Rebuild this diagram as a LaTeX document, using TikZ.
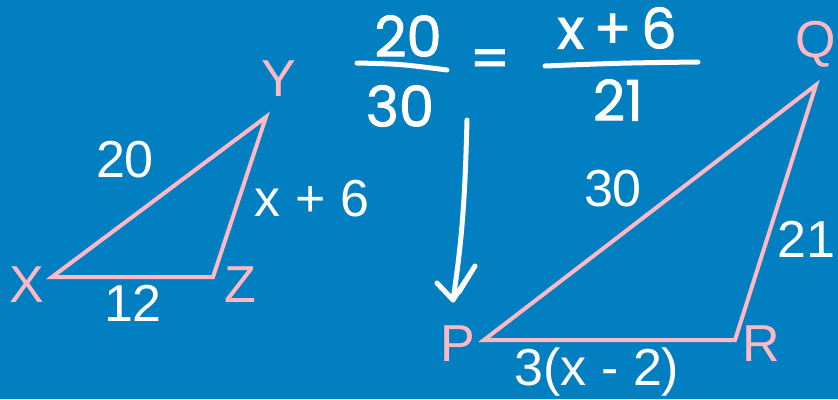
\documentclass[tikz,border=0pt]{standalone}
\usepackage{fontspec}
\setmainfont{Liberation Sans}
\newfontfamily\handfont[FakeBold=1.5]{Poppins}
\definecolor{board}{RGB}{2,127,193}
\definecolor{chalkpink}{RGB}{255,184,196}
\usetikzlibrary{arrows.meta}
\tikzset{
  vtx/.style={text=chalkpink,font=\fontsize{52}{52}\selectfont,inner sep=0pt},
  side/.style={text=white,font=\fontsize{52}{52}\selectfont,inner sep=0pt},
  edge/.style={draw=chalkpink,line width=4pt},
  hand/.style={text=white,font=\handfont\fontsize{56}{56}\selectfont,inner sep=0pt},
  ink/.style={draw=white,line width=5pt,line cap=round,line join=round},
}
\begin{document}
\begin{tikzpicture}[x=1pt,y=-1pt]
  \fill[board] (0,0) rectangle (838,399);
  \useasboundingbox (0,0) rectangle (838,399);
  \clip (0,0) rectangle (838,399);
  % triangle XYZ
  \coordinate (X) at (52,277);
  \coordinate (Y) at (266,117);
  \coordinate (Z) at (213,277);
  \draw[edge] (X) -- (Y) -- (Z) -- cycle;
  \node[vtx] (lx) at (27,285) {X};
  \node[vtx] (ly) at (279,79) {Y};
  \node[vtx] (lz) at (240,285) {Z};
  \node[side] (sxy) at (125,160) {20};
  \node[side] (syz) at (312,199) {x + 6};
  \node[side] (sxz) at (133,303) {12};
  % triangle PQR
  \coordinate (P) at (484,340);
  \coordinate (Q) at (816,85);
  \coordinate (R) at (735,340);
  \draw[edge] (P) -- (Q) -- (R) -- cycle;
  \node[vtx] (lp) at (458,344) {P};
  \node[vtx] (lq) at (816,44) {Q};
  \node[vtx] (lr) at (761,344) {R};
  \node[side] (spq) at (613,189) {30};
  \node[side] (sqr) at (806,239) {21};
  \node[side] (spr) at (597,372) {3(x - 2)};
  % handwritten ratio
  \node[hand] (n1) at (408,36) {20};
  \node[hand] (d1) at (400,106) {30};
  \node[hand] (eq) at (490,64) {=};
  \node[hand] (n2) at (617,28) {x\,+\,6};
  \node[hand] (d2) at (618,100) {21};
  \draw[ink] (357,63) .. controls (400,64) .. (447,70);
  \draw[ink] (545,66) .. controls (620,63) .. (698,62);
  % arrow down to P
  \coordinate (top) at (467,120);
  \coordinate (tip) at (453,300);
  \draw[ink] (top) .. controls (465,200) and (462,240) .. (tip);
  \draw[ink] (437,283) -- (tip) -- (475,266) -- (459,292);
\end{tikzpicture}
\end{document}
